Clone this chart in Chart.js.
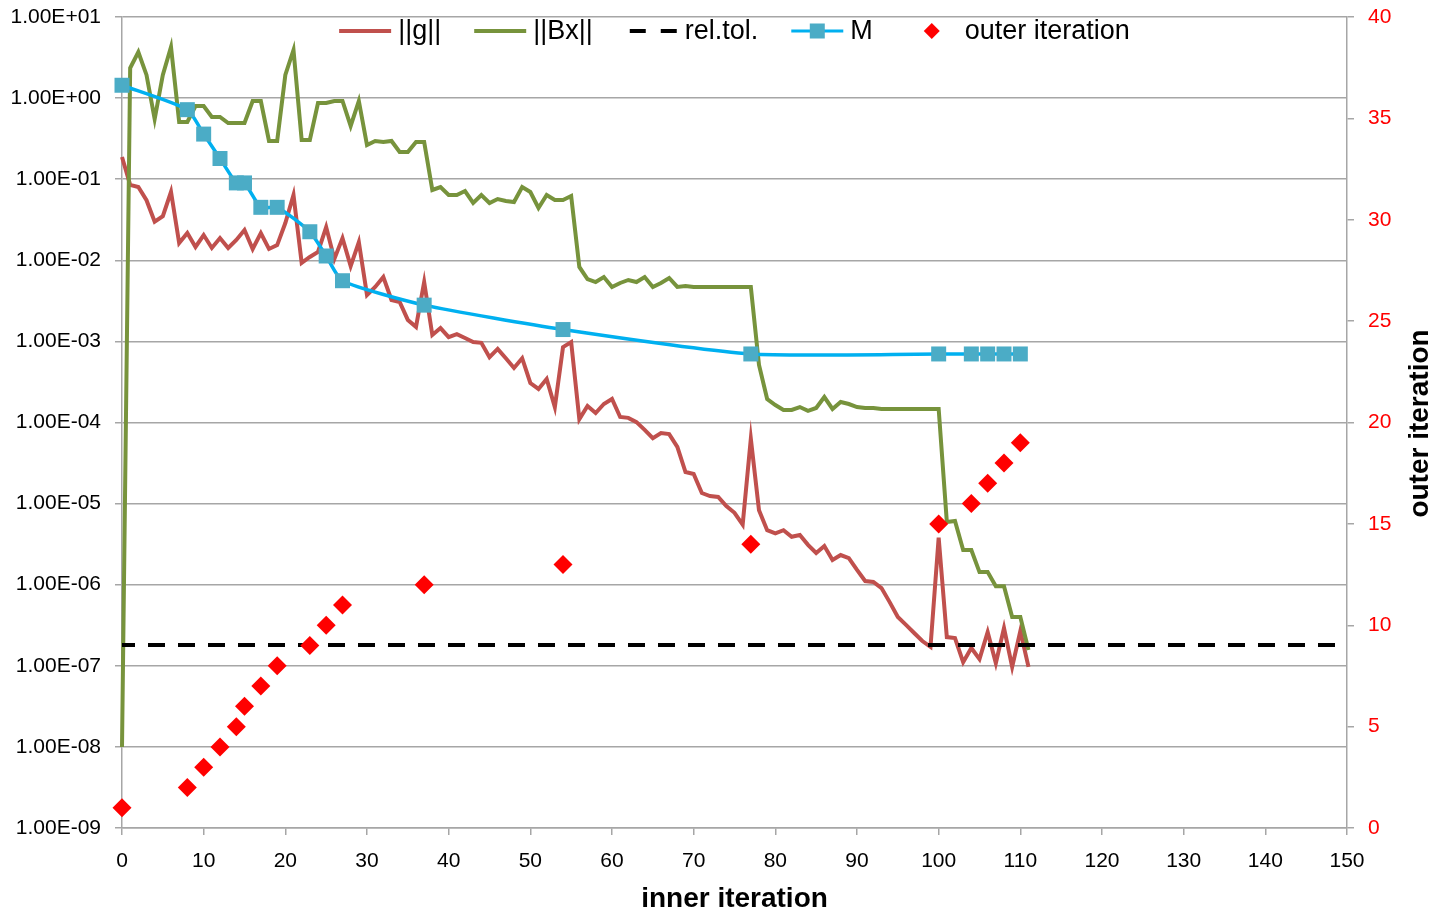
<!DOCTYPE html>
<html>
<head>
<meta charset="utf-8">
<script src="https://cdn.jsdelivr.net/npm/chart.js@4.4.1/dist/chart.umd.min.js"></script>
<style>
  html, body { margin: 0; padding: 0; background: #ffffff; }
  #wrap { width: 1441px; height: 913px; }
</style>
</head>
<body>
<div id="wrap"><canvas id="c" width="1441" height="913"></canvas></div>
<script>
// ---------------- DATA ----------------
const innerIter = [0,1,2,3,4,5,6,7,8,9,10,11,12,13,14,15,16,17,18,19,20,21,22,23,24,25,26,27,28,29,30,31,32,33,34,35,36,37,38,39,40,41,42,43,44,45,46,47,48,49,50,51,52,53,54,55,56,57,58,59,60,61,62,63,64,65,66,67,68,69,70,71,72,73,74,75,76,77,78,79,80,81,82,83,84,85,86,87,88,89,90,91,92,93,94,95,96,97,98,99,100,101,102,103,104,105,106,107,108,109,110,111];

const gNorm = [
  1.88e-1, 8.5e-2, 8.0e-2, 5.5e-2, 3.0e-2, 3.5e-2, 7.0e-2, 1.63e-2, 2.17e-2, 1.46e-2,
  2.05e-2, 1.42e-2, 1.88e-2, 1.42e-2, 1.78e-2, 2.36e-2, 1.38e-2, 2.17e-2, 1.38e-2, 1.54e-2,
  2.88e-2, 6.4e-2, 9.3e-3, 1.10e-2, 1.27e-2, 2.57e-2, 1.04e-2, 1.88e-2, 8.5e-3, 1.68e-2,
  3.73e-3, 4.69e-3, 6.22e-3, 3.24e-3, 3.06e-3, 1.84e-3, 1.51e-3, 5.4e-3, 1.20e-3, 1.46e-3,
  1.13e-3, 1.23e-3, 1.10e-3, 9.8e-4, 9.6e-4, 6.4e-4, 8.1e-4, 6.2e-4, 4.7e-4, 6.2e-4,
  3.07e-4, 2.59e-4, 3.44e-4, 1.55e-4, 8.5e-4, 9.8e-4, 1.10e-4, 1.60e-4, 1.31e-4, 1.69e-4,
  1.95e-4, 1.17e-4, 1.14e-4, 1.01e-4, 8.1e-5, 6.4e-5, 7.4e-5, 7.2e-5, 5.0e-5, 2.45e-5,
  2.32e-5, 1.35e-5, 1.24e-5, 1.21e-5, 9.3e-6, 7.7e-6, 5.5e-6, 6.3e-5, 8.3e-6, 4.7e-6,
  4.3e-6, 4.7e-6, 3.9e-6, 4.1e-6, 3.1e-6, 2.46e-6, 3.0e-6, 2.02e-6, 2.32e-6, 2.13e-6,
  1.52e-6, 1.11e-6, 1.08e-6, 9.1e-7, 6.1e-7, 4.0e-7, 3.2e-7, 2.54e-7, 2.02e-7, 1.71e-7,
  3.8e-6, 2.26e-7, 2.2e-7, 1.11e-7, 1.66e-7, 1.21e-7, 2.61e-7, 1.08e-7, 2.92e-7, 9.7e-8,
  2.69e-7, 9.7e-8
];

const bxNorm = [
  1.0e-8, 2.35, 3.70, 1.93, 0.552, 1.93, 4.27, 0.507, 0.507, 0.799,
  0.799, 0.585, 0.585, 0.493, 0.493, 0.493, 0.921, 0.921, 0.296, 0.296,
  1.93, 3.92, 0.304, 0.304, 0.870, 0.870, 0.921, 0.921, 0.453, 0.921,
  0.264, 0.296, 0.288, 0.296, 0.2165, 0.2165, 0.288, 0.288, 0.0736, 0.0801,
  0.0639, 0.0639, 0.0715, 0.0509, 0.0639, 0.0509, 0.0570, 0.0538, 0.0523, 0.0801,
  0.0695, 0.0442, 0.0639, 0.0554, 0.0554, 0.0621, 0.00827, 0.00588, 0.0054, 0.00622,
  0.00469, 0.00525, 0.00572, 0.0054, 0.00622, 0.00469, 0.00525, 0.00605, 0.00469, 0.00482,
  0.00469, 0.00469, 0.00469, 0.00469, 0.00469, 0.00469, 0.00469, 0.00469, 5.12e-4, 1.95e-4,
  1.64e-4, 1.43e-4, 1.43e-4, 1.55e-4, 1.39e-4, 1.51e-4, 2.06e-4, 1.47e-4, 1.79e-4, 1.69e-4,
  1.55e-4, 1.51e-4, 1.51e-4, 1.47e-4, 1.47e-4, 1.47e-4, 1.47e-4, 1.47e-4, 1.47e-4, 1.47e-4,
  1.47e-4, 5.93e-6, 6.10e-6, 2.68e-6, 2.68e-6, 1.43e-6, 1.43e-6, 9.6e-7, 9.6e-7, 4.0e-7,
  4.0e-7, 1.57e-7
];

const relTolX = [0, 150];
const relTol = [1.8e-7, 1.8e-7];

const outerIterX = [0, 8, 10, 12, 14, 15, 17, 19, 23, 25, 27, 37, 54, 77, 100, 104, 106, 108, 110];
const mValues = [1.44, 0.72, 0.36, 0.18, 0.09, 0.09, 0.045, 0.045, 0.0225, 0.0113, 0.0056, 0.0028, 0.0014, 0.0007, 0.0007, 0.0007, 0.0007, 0.0007, 0.0007];
const outerIter = [1, 2, 3, 4, 5, 6, 7, 8, 9, 10, 11, 12, 13, 14, 15, 16, 17, 18, 19];

const yTickValues = [1e-9, 1e-8, 1e-7, 1e-6, 1e-5, 1e-4, 1e-3, 1e-2, 1e-1, 1e0, 1e1];
const yTickLabels = ['1.00E-09','1.00E-08','1.00E-07','1.00E-06','1.00E-05','1.00E-04','1.00E-03','1.00E-02','1.00E-01','1.00E+00','1.00E+01'];

const seriesLabels = ['||g||', '||Bx||', 'rel.tol.', 'M', 'outer iteration'];
const xTitle = 'inner iteration';
const y2Title = 'outer iteration';

// ---------------- STYLE ----------------
const FONT = "'Liberation Sans', Arial, sans-serif";
const C_G = '#c0504d', C_BX = '#77933c', C_TOL = '#000000', C_MLINE = '#00b0f0', C_MPT = '#4bacc6', C_OUT = '#ff0000';
const GRID = '#a6a6a6';

const pairs = (xs, ys) => xs.map((x, i) => ({ x: x, y: ys[i] }));

// custom legend drawn inside the plot area (Excel style)
const legendPlugin = {
  id: 'xlLegend',
  afterDraw(chart) {
    const ctx = chart.ctx;
    const area = chart.chartArea;
    ctx.save();
    ctx.font = '27px ' + FONT;
    ctx.textBaseline = 'middle';
    const symW = 52, gapT = 7, gapItem = 33, y = 31;
    const widths = seriesLabels.map(t => ctx.measureText(t).width);
    let total = 0;
    widths.forEach((w, i) => { total += symW + gapT + w + (i < widths.length - 1 ? gapItem : 0); });
    let x = (area.left + area.right) / 2 - total / 2;
    seriesLabels.forEach((t, i) => {
      const ds = chart.data.datasets[i];
      ctx.save();
      if (i === 0 || i === 1) {
        ctx.strokeStyle = ds.borderColor; ctx.lineWidth = 4; ctx.lineCap = 'butt';
        ctx.beginPath(); ctx.moveTo(x, y); ctx.lineTo(x + symW, y); ctx.stroke();
      } else if (i === 2) {
        ctx.strokeStyle = ds.borderColor; ctx.lineWidth = 4; ctx.setLineDash([16, 15]);
        ctx.beginPath(); ctx.moveTo(x + 4, y); ctx.lineTo(x + symW, y); ctx.stroke();
      } else if (i === 3) {
        ctx.strokeStyle = ds.borderColor; ctx.lineWidth = 3;
        ctx.beginPath(); ctx.moveTo(x, y); ctx.lineTo(x + symW, y); ctx.stroke();
        ctx.fillStyle = ds.pointBackgroundColor;
        ctx.fillRect(x + symW / 2 - 7.5, y - 7.5, 15, 15);
      } else {
        ctx.fillStyle = ds.pointBackgroundColor;
        const cx = x + symW / 2, r = 8;
        ctx.beginPath(); ctx.moveTo(cx - r, y); ctx.lineTo(cx, y - r); ctx.lineTo(cx + r, y); ctx.lineTo(cx, y + r); ctx.closePath(); ctx.fill();
      }
      ctx.restore();
      ctx.fillStyle = '#000';
      ctx.fillText(t, x + symW + gapT, y + 1);
      x += symW + gapT + widths[i] + gapItem;
    });
    // right axis title (reads bottom-to-top)
    ctx.font = 'bold 28px ' + FONT;
    ctx.textAlign = 'center';
    ctx.translate(1420, (area.top + area.bottom) / 2 + 1);
    ctx.rotate(-Math.PI / 2);
    ctx.fillStyle = '#000';
    ctx.fillText(y2Title, 0, 0);
    ctx.restore();
  }
};

const tickFont = { family: FONT, size: 21 };

new Chart(document.getElementById('c'), {
  data: {
    datasets: [
      { type: 'line', label: seriesLabels[0], data: pairs(innerIter, gNorm), yAxisID: 'y',
        borderColor: C_G, borderWidth: 4, pointRadius: 0, tension: 0, order: 5, clip: false },
      { type: 'line', label: seriesLabels[1], data: pairs(innerIter, bxNorm), yAxisID: 'y',
        borderColor: C_BX, borderWidth: 4, pointRadius: 0, tension: 0, order: 4, clip: false },
      { type: 'line', label: seriesLabels[2], data: pairs(relTolX, relTol), yAxisID: 'y',
        borderColor: C_TOL, borderWidth: 4, borderDash: [17, 13], borderDashOffset: 4, pointRadius: 0, order: 3, clip: false },
      { type: 'line', label: seriesLabels[3], data: pairs(outerIterX, mValues), yAxisID: 'y',
        borderColor: C_MLINE, borderWidth: 3.5, tension: 0.2,
        pointStyle: 'rect', pointRadius: 10.6, pointBackgroundColor: C_MPT, pointBorderColor: C_MPT, pointBorderWidth: 0,
        order: 2, clip: false },
      { type: 'scatter', label: seriesLabels[4], data: pairs(outerIterX, outerIter), yAxisID: 'y2',
        showLine: false, pointStyle: 'rectRot', pointRadius: 9.5, pointBackgroundColor: C_OUT, pointBorderColor: C_OUT, pointBorderWidth: 0,
        order: 1, clip: false }
    ]
  },
  options: {
    responsive: false,
    animation: false,
    events: [],
    layout: { padding: { top: 17, left: 0, right: 0, bottom: 0 } },
    plugins: { legend: { display: false }, tooltip: { enabled: false }, title: { display: false } },
    scales: {
      x: {
        type: 'linear', position: 'bottom', min: 0, max: 150,
        ticks: { stepSize: 10, font: tickFont, color: '#000', padding: 14, maxRotation: 0, autoSkip: false },
        grid: { drawOnChartArea: false, drawTicks: true, tickLength: 7, color: GRID, lineWidth: 1.5 },
        border: { display: true, color: GRID, width: 1.5 },
        title: { display: true, text: xTitle, color: '#000', font: { family: FONT, size: 28, weight: 'bold', lineHeight: 1 }, padding: { top: 0, bottom: 0 } },
        afterFit(s) { s.height = 85; s.paddingLeft = 0; s.paddingRight = 0; }
      },
      y: {
        type: 'logarithmic', position: 'left', min: 1e-9, max: 10,
        afterBuildTicks(s) { s.ticks = yTickValues.map(v => ({ value: v })); },
        ticks: { font: tickFont, color: '#000', padding: 14, autoSkip: false,
                 callback: (v, i) => yTickLabels[i] },
        grid: { color: GRID, lineWidth: 1.5, tickLength: 7 },
        border: { display: true, color: GRID, width: 1.5 },
        afterFit(s) { s.width = 122; s.paddingTop = 0; s.paddingBottom = 0; }
      },
      y2: {
        type: 'linear', position: 'right', min: 0, max: 40,
        ticks: { stepSize: 5, font: tickFont, color: '#ff0000', padding: 14 },
        grid: { drawOnChartArea: false, tickLength: 7, color: GRID, lineWidth: 1.5 },
        border: { display: true, color: GRID, width: 1.5 },
        afterFit(s) { s.width = 94; s.paddingTop = 0; s.paddingBottom = 0; }
      }
    }
  },
  plugins: [legendPlugin]
});
</script>
</body>
</html>
